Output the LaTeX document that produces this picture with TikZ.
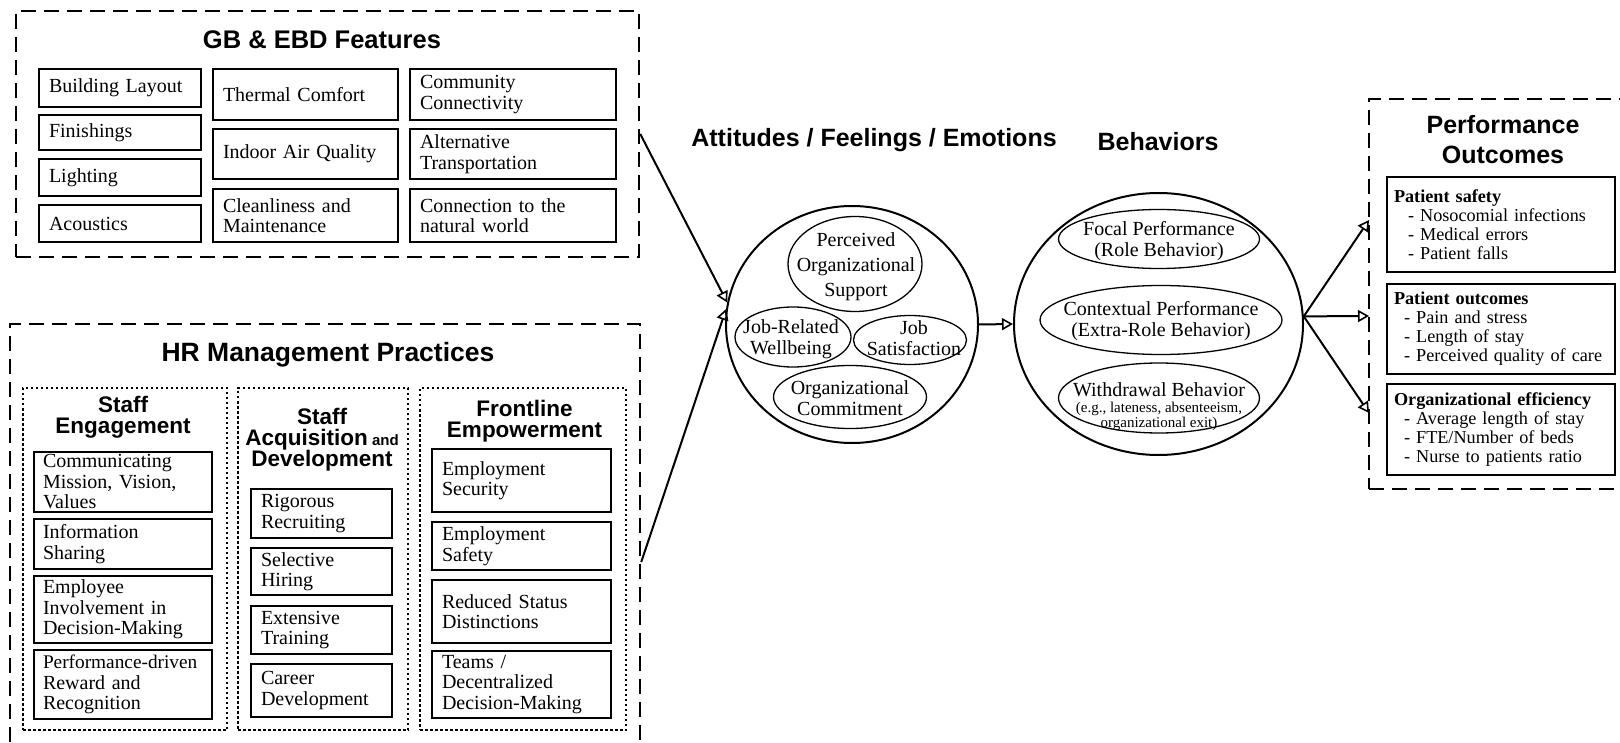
\documentclass[tikz,border=0pt]{standalone}
\usepackage{fontspec}
\setmainfont{Liberation Serif}
\setsansfont{Liberation Sans}
\usetikzlibrary{shapes.geometric,arrows.meta}

\begin{document}
\begin{tikzpicture}[x=1pt,y=-1pt,
    dashbox/.style={draw, line width=2.5pt, dash pattern=on 15pt off 8pt, inner sep=0pt},
    dotbox/.style={draw, line width=2pt, dash pattern=on 2.5pt off 2.5pt, inner sep=0pt},
    featbox/.style={draw, line width=1.3pt, align=left, inner xsep=10pt, inner ysep=0pt, font=\fontsize{20}{20.5}\selectfont},
    ttl/.style={font=\sffamily\bfseries\fontsize{25}{30}\selectfont, align=center},
    subttl/.style={font=\sffamily\bfseries\fontsize{22.5}{21}\selectfont, align=center},
    bigell/.style={draw, ellipse, line width=2pt, inner sep=0pt},
    smallell/.style={draw, ellipse, line width=1.3pt, inner sep=0pt},
    elltxt/.style={align=center, inner sep=0pt, font=\fontsize{20}{20.5}\selectfont},
    outbox/.style={draw, line width=1.3pt, align=left, inner xsep=7pt, inner ysep=0pt, text width=214pt, minimum height=#1, font=\fontsize{18.2}{19}\selectfont},
    arr/.style={line width=2pt, -{Triangle[open, length=11pt, width=12pt, line width=1.6pt]}}]

  \useasboundingbox (0,0) rectangle (1620,743);
  \clip (0,0) rectangle (1620,743);

  % GB & EBD features
  \node[dashbox, minimum width=623pt, minimum height=246pt] (gb) at (327.5,134) {};
  \node[ttl, font=\sffamily\bfseries\fontsize{25.5}{30}\selectfont] (gbT) at (322,40) {GB \& EBD Features};
  \foreach \nm/\y/\h/\txt in {bl/88/38/Building Layout, fin/132.5/35/Finishings, lig/177.5/37/Lighting, aco/223.5/37/Acoustics}
    \node[featbox, text width=142pt, minimum height=\h pt] (\nm) at (120,\y) {\txt};
  \foreach \nm/\y/\h/\txt in {tc/94.5/51/Thermal Comfort, iaq/154/50/Indoor Air Quality, cm/215.5/53/{Cleanliness and\\Maintenance}}
    \node[featbox, text width=165pt, minimum height=\h pt] (\nm) at (305.5,\y) {\txt};
  \foreach \nm/\y/\h/\txt in {cc/94.5/51/{Community\\Connectivity}, at/154/50/{Alternative\\Transportation}, cnw/215.5/53/{Connection to the\\natural world}}
    \node[featbox, text width=186pt, minimum height=\h pt] (\nm) at (513,\y) {\txt};

  % HR management practices
  \node[dashbox, minimum width=630pt, minimum height=476pt] (hr) at (325,562) {};
  \node[ttl, font=\sffamily\bfseries\fontsize{26.5}{30}\selectfont] (hrT) at (328,355) {HR Management Practices};
  \node[dotbox, minimum width=204pt, minimum height=342pt] (se) at (125,559) {};
  \node[dotbox, minimum width=170pt, minimum height=342pt] (sad) at (323,559) {};
  \node[dotbox, minimum width=206pt, minimum height=342pt] (fe) at (523,559) {};
  \node[subttl] (seT) at (123,417.5) {Staff\\Engagement};
  \node[subttl] (sadT) at (322,440) {Staff\\Acquisition{\fontsize{15}{21}\selectfont\ and}\\Development};
  \node[subttl] (feT) at (524.5,421.5) {Frontline\\Empowerment};
  \foreach \nm/\y/\h/\txt in {se1/482/60/{Communicating\\Mission, Vision,\\Values}, se2/544/50/{Information\\Sharing}, se3/609.5/67/{Employee\\Involvement in\\Decision-Making}, se4/684.5/69/{{\fontsize{19.3}{20.5}\selectfont\mbox{Performance-driven}}\\Reward and\\Recognition}}
    \node[featbox, inner xsep=9pt, text width=160pt, minimum height=\h pt] (\nm) at (123,\y) {\txt};
  \foreach \nm/\y/\h/\txt in {sad1/513.5/49/{Rigorous\\Recruiting}, sad2/571.5/47/{Selective\\Hiring}, sad3/630/48/{Extensive\\Training}, sad4/690.5/53/{Career\\Development}}
    \node[featbox, text width=121pt, minimum height=\h pt] (\nm) at (321.5,\y) {\txt};
  \foreach \nm/\y/\h/\txt in {fe1/480.5/63/{Employment\\Security}, fe2/546/48/{Employment\\Safety}, fe3/611.5/63/{Reduced Status\\Distinctions}, fe4/684.5/67/{Teams /\\Decentralized\\Decision-Making}}
    \node[featbox, text width=159pt, minimum height=\h pt] (\nm) at (521.5,\y) {\txt};

  % attitudes
  \node[ttl] (attT) at (874,140) {Attitudes / Feelings / Emotions};
  \node[bigell, minimum width=252pt, minimum height=237pt] (circ1) at (852,324.5) {};
  \node[smallell, minimum width=134pt, minimum height=95pt] (pos) at (855,264) {};
  \node[elltxt, font=\fontsize{20}{25}\selectfont] (posT) at (856,267) {Perceived\\Organizational\\Support};
  \node[smallell, minimum width=116pt, minimum height=60pt] (jrw) at (793,337) {};
  \node[elltxt] (jrwT) at (791,339) {Job-Related\\Wellbeing};
  \node[smallell, minimum width=113pt, minimum height=49pt] (js) at (910,340) {};
  \node[elltxt] (jsT) at (914,338) {Job\\Satisfaction};
  \node[smallell, minimum width=153pt, minimum height=63pt] (oc) at (850,397) {};
  \node[elltxt] (ocT) at (850,398) {Organizational\\Commitment};

  % behaviors
  \node[ttl] (behT) at (1158,142) {Behaviors};
  \node[bigell, minimum width=289pt, minimum height=262pt] (circ2) at (1158.5,324) {};
  \node[smallell, minimum width=201pt, minimum height=59pt] (foc) at (1159,239) {};
  \node[elltxt] (focT) at (1159,241) {Focal Performance\\(Role Behavior)};
  \node[smallell, minimum width=242pt, minimum height=69pt] (ctx) at (1161,320) {};
  \node[elltxt] (ctxT) at (1161,321) {Contextual Performance\\(Extra-Role Behavior)};
  \node[smallell, minimum width=201pt, minimum height=70pt] (wd) at (1159,398) {};
  \node[elltxt] (wdT) at (1159,390) {Withdrawal Behavior};
  \node[elltxt, font=\fontsize{15}{15}\selectfont] (wdS) at (1159,416) {(e.g., lateness, absenteeism,\\organizational exit)};

  % performance outcomes
  \node[dashbox, minimum width=271pt, minimum height=390pt] (perf) at (1504.5,294) {};
  \node[ttl] (perfT) at (1503,140) {Performance\\Outcomes};
  \node[outbox=95pt] (ps) at (1501,224.5) {\textbf{Patient safety}\\\hspace*{14pt}- Nosocomial infections\\\hspace*{14pt}- Medical errors\\\hspace*{14pt}- Patient falls};
  \node[outbox=90pt] (po) at (1501,329) {\textbf{Patient outcomes}\\\hspace*{10pt}- Pain and stress\\\hspace*{10pt}- Length of stay\\\hspace*{10pt}- Perceived quality of care};
  \node[outbox=91pt] (oe) at (1501,429.5) {\textbf{Organizational efficiency}\\\hspace*{10pt}- Average length of stay\\\hspace*{10pt}- FTE/Number of beds\\\hspace*{10pt}- Nurse to patients ratio};
  \coordinate (psIn) at (1369,220);
  \coordinate (poIn) at (1369,316);
  \coordinate (oeIn) at (1369,413);

  % arrows
  \draw[arr] (gb.east) -- (circ1.170);
  \draw[arr] (hr.east) -- (circ1.173);
  \draw[arr] (circ1.east) -- (circ2.west);
  \draw[arr] (circ2.3) -- (psIn);
  \draw[arr] (circ2.3) -- (poIn);
  \draw[arr] (circ2.3) -- (oeIn);
\end{tikzpicture}
\end{document}
